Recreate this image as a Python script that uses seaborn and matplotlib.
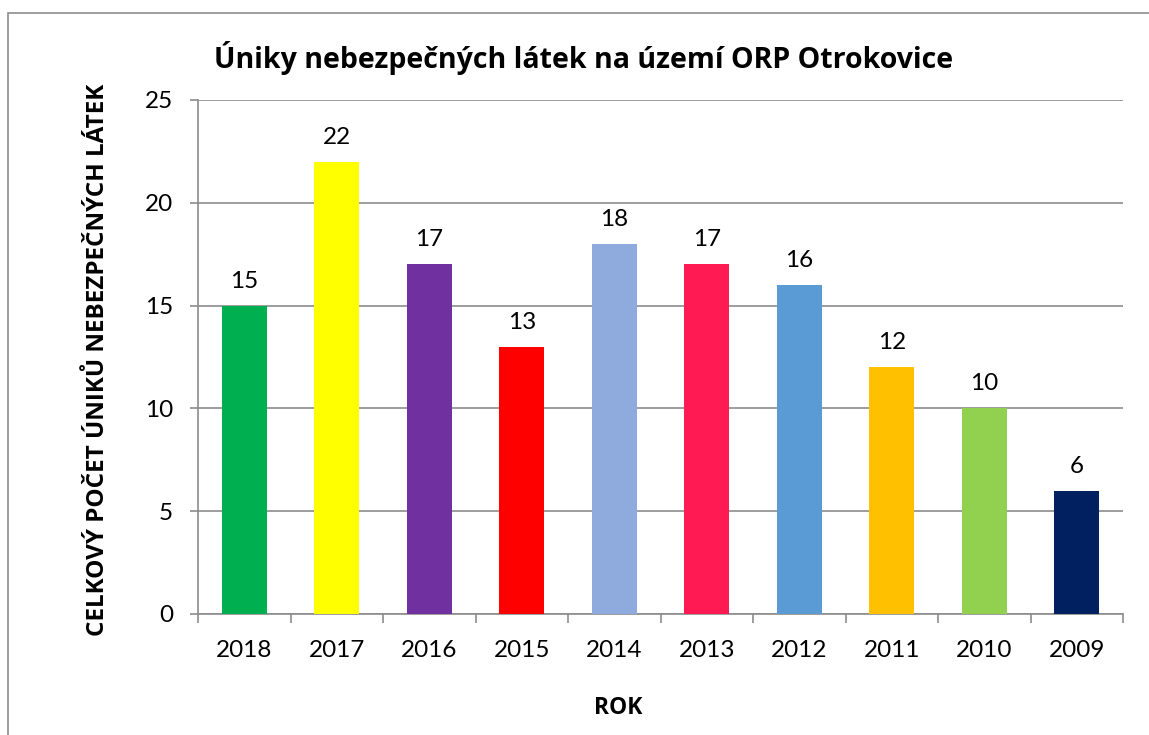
import matplotlib
matplotlib.use("Agg")
import matplotlib.pyplot as plt
import seaborn as sns
import pandas as pd
from matplotlib.patches import Rectangle
from matplotlib.ticker import MultipleLocator, FixedLocator

years = ["2018", "2017", "2016", "2015", "2014", "2013", "2012", "2011", "2010", "2009"]
counts = [15, 22, 17, 13, 18, 17, 16, 12, 10, 6]
colors = ["#00B050", "#FFFF00", "#7030A0", "#FF0000", "#8FAADC",
          "#FF1A53", "#5B9BD5", "#FFC000", "#92D050", "#002060"]
title = "Úniky nebezpečných látek na území ORP Otrokovice"
ylabel = "CELKOVÝ POČET ÚNIKŮ NEBEZPEČNÝCH LÁTEK"
xlabel = "ROK"

sns.set_theme(style="white")
plt.rcParams["font.family"] = ["Lato", "DejaVu Sans"]
plt.rcParams["text.color"] = "black"
bold_family = ["Open Sans", "DejaVu Sans"]

df = pd.DataFrame({"rok": years, "pocet": counts})

fig = plt.figure(figsize=(11.49, 7.35), dpi=100)
ax = fig.add_axes([198/1149, 1 - 614/735, (1123-198)/1149, (614-100)/735])

sns.barplot(data=df, x="rok", y="pocet", hue="rok", order=years, hue_order=years,
            palette=colors, legend=False, width=0.49, saturation=1,
            edgecolor="none", ax=ax, zorder=3)

ax.set_ylim(0, 25)
ax.set_xlim(-0.5, len(years) - 0.5)
ax.yaxis.set_major_locator(MultipleLocator(5))
ax.grid(axis="y", color="#8C8C8C", linewidth=1.2, zorder=0)
ax.set_axisbelow(True)

for s in ["top", "right"]:
    ax.spines[s].set_visible(False)
for s in ["left", "bottom"]:
    ax.spines[s].set_color("#8C8C8C")
    ax.spines[s].set_linewidth(1.2)

ax.tick_params(axis="y", which="major", length=6, width=1.2, color="#8C8C8C",
               labelsize=17.5, pad=12, labelcolor="black", left=True)
ax.tick_params(axis="x", which="major", length=0, labelsize=17.5, pad=19, labelcolor="black")
ax.xaxis.set_minor_locator(FixedLocator([i - 0.5 for i in range(len(years) + 1)]))
ax.tick_params(axis="x", which="minor", length=6.5, width=1.2, color="#8C8C8C", bottom=True)

for i, v in enumerate(counts):
    ax.annotate(str(v), xy=(i, v), xytext=(0, 13), textcoords="offset points",
                ha="center", va="baseline", fontsize=17.5, color="black")

ax.set_xlabel("")
ax.set_ylabel("")
fig.text(618/1149, 1 - 708/735, xlabel, ha="center", va="center", color="black",
         fontsize=16.5, fontweight="bold", family=bold_family)
fig.text(98/1149, 1 - 360/735, ylabel, ha="center", va="center", rotation=90,
         color="black", fontsize=17.5, fontweight="bold", family=bold_family)
fig.text(584/1149, 1 - 58/735, title, ha="center", va="center", color="black",
         fontsize=20.5, fontweight="bold", family=bold_family)

fig.patches.append(Rectangle((8/1149, -0.1), 1.2, 1 - 13/735 + 0.1,
                             transform=fig.transFigure, fill=False,
                             edgecolor="#8C8C8C", linewidth=1.2, zorder=-1))

fig.savefig("out.png", dpi=100)
